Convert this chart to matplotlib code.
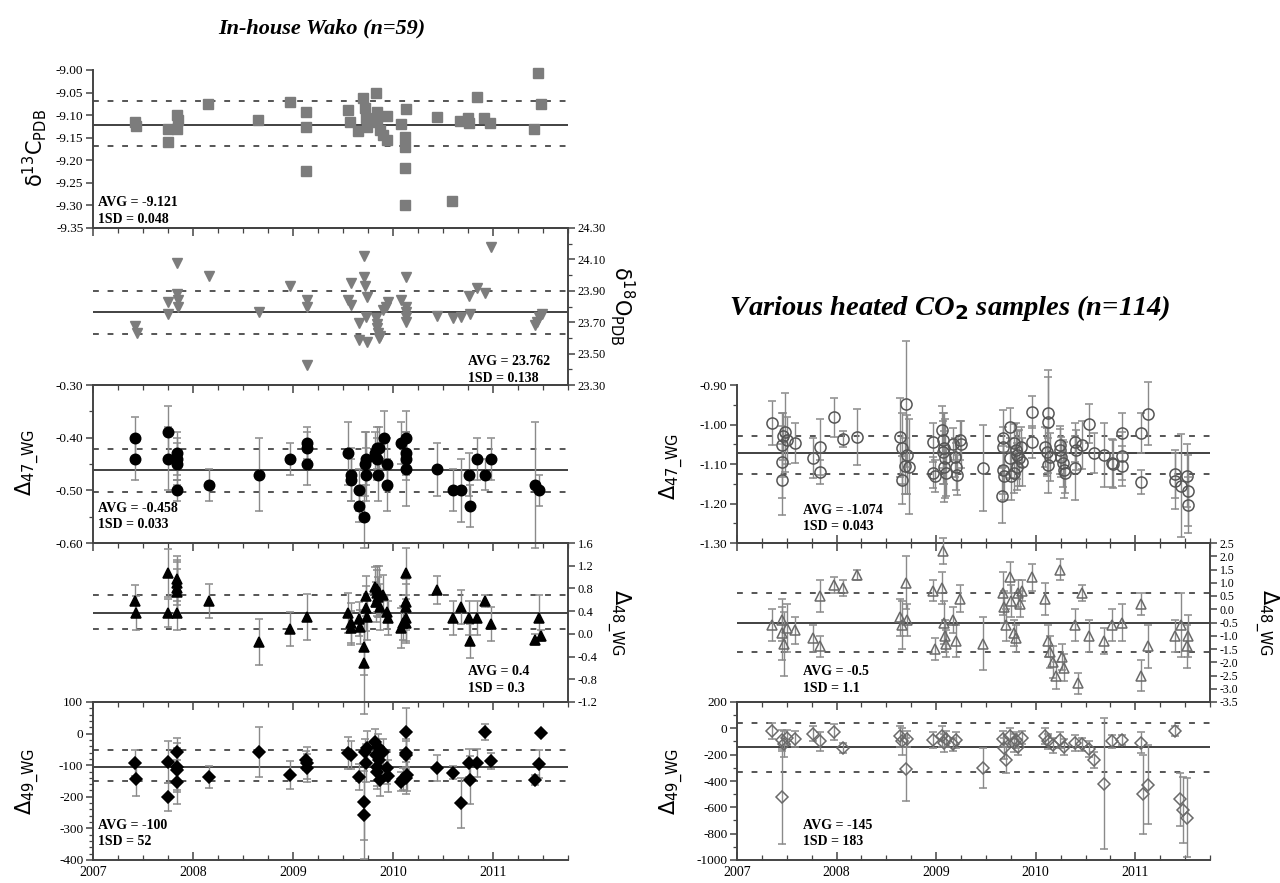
import matplotlib.pyplot as plt
import numpy as np
from matplotlib.ticker import MultipleLocator

plt.rcParams['font.family'] = ['Liberation Serif', 'DejaVu Serif']
plt.rcParams['mathtext.fontset'] = 'dejavusans'

# ---- data (decimal year, value[, 1 sigma]) ----
# In-house Wako
d13c = np.array([
    [2007.42, -9.115], [2007.43, -9.125], [2007.75, -9.13], [2007.75, -9.16],
    [2007.84, -9.10], [2007.84, -9.13], [2007.85, -9.11], [2008.15, -9.075],
    [2008.65, -9.11], [2008.97, -9.07], [2009.13, -9.093], [2009.13, -9.127],
    [2009.13, -9.224], [2009.55, -9.089], [2009.57, -9.115], [2009.65, -9.135],
    [2009.70, -9.063], [2009.72, -9.085], [2009.73, -9.107], [2009.74, -9.127],
    [2009.83, -9.05], [2009.84, -9.093], [2009.84, -9.115], [2009.87, -9.133],
    [2009.90, -9.145], [2009.94, -9.155], [2009.94, -9.102], [2010.08, -9.12],
    [2010.13, -9.087], [2010.12, -9.149], [2010.12, -9.171], [2010.12, -9.218],
    [2010.12, -9.30], [2010.44, -9.104], [2010.59, -9.291], [2010.67, -9.113],
    [2010.75, -9.107], [2010.76, -9.117], [2010.84, -9.06], [2010.91, -9.107],
    [2010.97, -9.118], [2011.41, -9.13], [2011.45, -9.007], [2011.48, -9.075],
])

d18o = np.array([
    [2007.42, 23.676], [2007.44, 23.63], [2007.75, 23.752], [2007.75, 23.83],
    [2007.84, 24.08], [2007.84, 23.88], [2007.85, 23.84], [2007.85, 23.80],
    [2008.16, 23.994], [2008.66, 23.765], [2008.97, 23.93], [2009.14, 23.84],
    [2009.14, 23.80], [2009.14, 23.43], [2009.55, 23.84], [2009.58, 23.81],
    [2009.58, 23.95], [2009.66, 23.695], [2009.66, 23.587], [2009.71, 24.12],
    [2009.71, 23.99], [2009.72, 23.93], [2009.74, 23.86], [2009.73, 23.735],
    [2009.74, 23.574], [2009.83, 23.727], [2009.84, 23.69], [2009.84, 23.66],
    [2009.85, 23.63], [2009.86, 23.60], [2009.87, 23.61], [2009.90, 23.78],
    [2009.93, 23.80], [2009.95, 23.83], [2010.08, 23.84], [2010.13, 23.99],
    [2010.13, 23.80], [2010.13, 23.765], [2010.13, 23.735], [2010.13, 23.70],
    [2010.44, 23.74], [2010.60, 23.727], [2010.68, 23.73], [2010.76, 23.87],
    [2010.77, 23.75], [2010.84, 23.92], [2010.92, 23.884], [2010.98, 24.18],
    [2011.42, 23.68], [2011.44, 23.70], [2011.46, 23.73], [2011.49, 23.75],
])

d47 = np.array([
    [2007.42, -0.40, 0.04], [2007.42, -0.44, 0.04], [2007.75, -0.39, 0.05],
    [2007.75, -0.44, 0.06], [2007.84, -0.43, 0.04], [2007.84, -0.44, 0.04],
    [2007.84, -0.45, 0.04], [2007.84, -0.50, 0.02], [2008.16, -0.49, 0.03],
    [2008.66, -0.47, 0.07], [2008.97, -0.44, 0.03], [2009.14, -0.41, 0.03],
    [2009.14, -0.42, 0.03], [2009.14, -0.45, 0.04], [2009.55, -0.43, 0.06],
    [2009.58, -0.47, 0.05], [2009.58, -0.48, 0.04], [2009.66, -0.50, 0.04],
    [2009.66, -0.53, 0.03], [2009.71, -0.55, 0.06], [2009.72, -0.45, 0.06],
    [2009.73, -0.44, 0.05], [2009.73, -0.47, 0.05], [2009.82, -0.43, 0.04],
    [2009.84, -0.42, 0.04], [2009.84, -0.44, 0.04], [2009.85, -0.47, 0.05],
    [2009.86, -0.42, 0.04], [2009.91, -0.40, 0.05], [2009.94, -0.45, 0.05],
    [2009.94, -0.49, 0.05], [2010.08, -0.41, 0.04], [2010.13, -0.40, 0.05],
    [2010.13, -0.43, 0.04], [2010.13, -0.44, 0.04], [2010.13, -0.46, 0.07],
    [2010.44, -0.46, 0.05], [2010.60, -0.50, 0.04], [2010.68, -0.50, 0.06],
    [2010.76, -0.47, 0.04], [2010.77, -0.53, 0.04], [2010.84, -0.44, 0.04],
    [2010.92, -0.47, 0.03], [2010.98, -0.44, 0.04], [2011.42, -0.49, 0.12],
    [2011.46, -0.50, 0.03],
])

d48 = np.array([
    [2007.42, 0.58, 0.28], [2007.43, 0.37, 0.30], [2007.75, 1.07, 0.42],
    [2007.75, 0.37, 0.25], [2007.84, 0.97, 0.40], [2007.84, 0.90, 0.40],
    [2007.84, 0.81, 0.45], [2007.84, 0.74, 0.40], [2007.84, 0.37, 0.30],
    [2008.16, 0.58, 0.30], [2008.66, -0.14, 0.40], [2008.97, 0.09, 0.30],
    [2009.14, 0.30, 0.40], [2009.55, 0.37, 0.35], [2009.58, 0.19, 0.35],
    [2009.58, 0.10, 0.30], [2009.66, 0.26, 0.30], [2009.67, 0.12, 0.30],
    [2009.71, -0.23, 0.50], [2009.71, -0.51, 0.90], [2009.73, 0.67, 0.35],
    [2009.73, 0.45, 0.40], [2009.74, 0.30, 0.40], [2009.82, 0.83, 0.35],
    [2009.84, 0.79, 0.40], [2009.84, 0.72, 0.40], [2009.85, 0.65, 0.35],
    [2009.83, 0.56, 0.35], [2009.87, 0.47, 0.40], [2009.86, 0.74, 0.45],
    [2009.90, 0.69, 0.35], [2009.94, 0.38, 0.30], [2009.95, 0.28, 0.30],
    [2010.08, 0.10, 0.35], [2010.10, 0.19, 0.30], [2010.13, 1.07, 0.45],
    [2010.13, 0.56, 0.40], [2010.13, 0.47, 0.40], [2010.13, 0.28, 0.40],
    [2010.13, 0.19, 0.35], [2010.44, 0.77, 0.25], [2010.60, 0.28, 0.30],
    [2010.68, 0.47, 0.30], [2010.76, 0.28, 0.30], [2010.77, -0.12, 0.30],
    [2010.84, 0.28, 0.30], [2010.92, 0.58, 0.10], [2010.98, 0.17, 0.30],
    [2011.42, -0.10, 0.10], [2011.46, 0.28, 0.40], [2011.48, -0.03, 0.10],
])

d49 = np.array([
    [2007.42, -93, 40], [2007.43, -144, 55], [2007.75, -90, 65],
    [2007.75, -200, 45], [2007.84, -58, 45], [2007.84, -105, 75],
    [2007.84, -115, 70], [2007.84, -153, 70], [2008.16, -137, 35],
    [2008.66, -58, 78], [2008.97, -131, 45], [2009.13, -84, 30],
    [2009.14, -93, 50], [2009.14, -109, 45], [2009.55, -61, 50],
    [2009.58, -68, 45], [2009.66, -137, 40], [2009.71, -216, 120],
    [2009.71, -258, 140], [2009.72, -58, 40], [2009.73, -93, 60],
    [2009.74, -46, 55], [2009.82, -27, 40], [2009.83, -68, 50],
    [2009.84, -105, 60], [2009.84, -121, 55], [2009.85, -42, 40],
    [2009.87, -147, 50], [2009.86, -84, 45], [2009.90, -58, 40],
    [2009.94, -109, 50], [2009.95, -134, 50], [2010.08, -153, 30],
    [2010.10, -144, 35], [2010.13, 5, 75], [2010.13, -61, 45],
    [2010.13, -68, 45], [2010.14, -131, 50], [2010.13, -140, 50],
    [2010.44, -109, 40], [2010.60, -124, 20], [2010.68, -220, 80],
    [2010.76, -93, 45], [2010.77, -147, 75], [2010.84, -93, 45],
    [2010.92, 5, 25], [2010.98, -87, 25], [2011.42, -147, 15],
    [2011.46, -96, 45], [2011.48, 2, 0],
])

# Various heated CO2 samples
h47 = np.array([
    [2007.35, -0.996, 0.055], [2007.45, -1.052, 0.08], [2007.45, -1.095, 0.09],
    [2007.45, -1.14, 0.09], [2007.46, -1.03, 0.06], [2007.48, -1.02, 0.10],
    [2007.50, -1.04, 0.06], [2007.58, -1.047, 0.05], [2007.76, -1.085, 0.05],
    [2007.83, -1.057, 0.07], [2007.83, -1.12, 0.03], [2007.97, -0.982, 0.05],
    [2008.06, -1.037, 0.02], [2008.21, -1.032, 0.07], [2008.64, -1.032, 0.10],
    [2008.66, -1.06, 0.09], [2008.66, -1.14, 0.06], [2008.70, -0.948, 0.16],
    [2008.71, -1.077, 0.10], [2008.69, -1.105, 0.07], [2008.73, -1.107, 0.12],
    [2008.97, -1.045, 0.05], [2008.97, -1.122, 0.04], [2008.99, -1.13, 0.04],
    [2009.06, -1.014, 0.06], [2009.07, -1.04, 0.07], [2009.08, -1.06, 0.09],
    [2009.07, -1.07, 0.08], [2009.09, -1.085, 0.10], [2009.08, -1.107, 0.09],
    [2009.10, -1.122, 0.06], [2009.17, -1.05, 0.04], [2009.19, -1.083, 0.05],
    [2009.20, -1.107, 0.06], [2009.21, -1.128, 0.05], [2009.24, -1.04, 0.05],
    [2009.25, -1.05, 0.06], [2009.47, -1.11, 0.11], [2009.67, -1.034, 0.07],
    [2009.67, -1.057, 0.05], [2009.67, -1.115, 0.06], [2009.68, -1.13, 0.06],
    [2009.66, -1.18, 0.07], [2009.74, -1.007, 0.05], [2009.74, -1.085, 0.05],
    [2009.75, -1.13, 0.06], [2009.78, -1.048, 0.05], [2009.80, -1.065, 0.07],
    [2009.81, -1.077, 0.06], [2009.83, -1.085, 0.07], [2009.85, -1.057, 0.05],
    [2009.81, -1.107, 0.06], [2009.78, -1.123, 0.05], [2009.86, -1.095, 0.06],
    [2009.96, -0.968, 0.04], [2009.96, -1.045, 0.04], [2010.12, -0.97, 0.09],
    [2010.12, -0.993, 0.13], [2010.09, -1.057, 0.05], [2010.11, -1.07, 0.06],
    [2010.14, -1.082, 0.06], [2010.12, -1.103, 0.07], [2010.24, -1.065, 0.06],
    [2010.25, -1.082, 0.05], [2010.27, -1.098, 0.06], [2010.28, -1.115, 0.07],
    [2010.29, -1.123, 0.05], [2010.24, -1.052, 0.04], [2010.39, -1.045, 0.05],
    [2010.40, -1.065, 0.05], [2010.39, -1.11, 0.08], [2010.46, -1.052, 0.06],
    [2010.53, -0.998, 0.05], [2010.59, -1.072, 0.05], [2010.69, -1.077, 0.08],
    [2010.77, -1.097, 0.06], [2010.78, -1.10, 0.06], [2010.87, -1.022, 0.05],
    [2010.87, -1.08, 0.06], [2010.87, -1.105, 0.05], [2011.06, -1.022, 0.05],
    [2011.06, -1.146, 0.03], [2011.13, -0.973, 0.08], [2011.40, -1.125, 0.06],
    [2011.40, -1.143, 0.07], [2011.46, -1.155, 0.13], [2011.52, -1.13, 0.08],
    [2011.53, -1.168, 0.09], [2011.53, -1.204, 0.07],
])

h48 = np.array([
    [2007.35, -0.6, 0.6], [2007.45, -0.4, 0.8], [2007.45, -0.9, 1.0],
    [2007.47, -1.3, 1.2], [2007.50, -0.7, 0.9], [2007.58, -0.8, 0.5],
    [2007.76, -1.1, 0.5], [2007.83, 0.5, 0.6], [2007.83, -1.4, 0.4],
    [2007.97, 0.9, 0.3], [2008.06, 0.8, 0.3], [2008.21, 1.3, 0.2],
    [2008.64, -0.3, 0.7], [2008.66, -0.6, 0.9], [2008.70, 1.0, 1.0],
    [2008.71, -0.4, 0.6], [2008.97, 0.7, 0.4], [2008.99, -1.5, 0.4],
    [2009.06, 0.8, 0.6], [2009.07, 2.2, 0.5], [2009.08, -0.5, 0.8],
    [2009.09, -1.0, 0.6], [2009.10, -1.3, 0.5], [2009.17, -0.4, 0.5],
    [2009.20, -1.2, 0.6], [2009.24, 0.4, 0.5], [2009.47, -1.3, 1.0],
    [2009.67, 0.6, 0.8], [2009.68, 0.1, 0.6], [2009.70, -0.6, 0.6],
    [2009.74, 1.2, 0.6], [2009.75, 0.3, 0.6], [2009.78, -0.9, 0.5],
    [2009.80, -1.1, 0.5], [2009.82, 0.6, 0.5], [2009.84, 0.2, 0.5],
    [2009.86, 0.7, 0.4], [2009.96, 1.2, 0.5], [2010.09, 0.4, 0.6],
    [2010.12, -1.2, 0.6], [2010.14, -1.6, 0.6], [2010.17, -2.0, 0.6],
    [2010.20, -2.5, 0.5], [2010.24, 1.5, 0.4], [2010.26, -1.8, 0.5],
    [2010.28, -2.2, 0.5], [2010.39, -0.6, 0.6], [2010.42, -2.8, 0.4],
    [2010.46, 0.6, 0.3], [2010.53, -1.0, 0.6], [2010.69, -1.2, 0.5],
    [2010.77, -0.6, 0.6], [2010.87, -0.5, 0.7], [2011.06, 0.2, 0.4],
    [2011.06, -2.5, 0.6], [2011.13, -1.4, 0.8], [2011.40, -1.0, 0.6],
    [2011.46, -0.6, 1.2], [2011.52, -1.4, 0.8], [2011.53, -1.0, 0.8],
])

h49 = np.array([
    [2007.35, -20, 60], [2007.45, -90, 80], [2007.45, -520, 360],
    [2007.47, -120, 100], [2007.50, -70, 60], [2007.58, -80, 60],
    [2007.76, -40, 60], [2007.83, -100, 70], [2007.97, -30, 60],
    [2008.06, -150, 40], [2008.64, -60, 80], [2008.66, -100, 100],
    [2008.70, -310, 240], [2008.71, -80, 60], [2008.97, -90, 60],
    [2009.06, -60, 80], [2009.08, -110, 70], [2009.10, -80, 60],
    [2009.17, -120, 50], [2009.20, -90, 60], [2009.47, -300, 150],
    [2009.67, -80, 60], [2009.68, -150, 80], [2009.70, -240, 100],
    [2009.74, -60, 60], [2009.78, -110, 70], [2009.80, -90, 60],
    [2009.82, -140, 60], [2009.86, -70, 50], [2010.09, -60, 60],
    [2010.12, -100, 60], [2010.17, -130, 60], [2010.24, -90, 60],
    [2010.28, -140, 60], [2010.39, -110, 60], [2010.46, -120, 50],
    [2010.53, -160, 60], [2010.59, -240, 60], [2010.69, -420, 500],
    [2010.77, -100, 50], [2010.87, -90, 40], [2011.06, -110, 80],
    [2011.08, -500, 300], [2011.13, -430, 300], [2011.40, -20, 40],
    [2011.45, -540, 200], [2011.48, -620, 250], [2011.52, -680, 300],
])

wako_stats = {'d13c': (-9.121, -9.069, -9.169), 'd18o': (23.762, 23.90, 23.624),
              'd47': (-0.461, -0.421, -0.503), 'd48': (0.37, 0.68, 0.085),
              'd49': (-105, -52, -150)}
heated_stats = {'d47': (-1.072, -1.029, -1.125), 'd48': (-0.5, 0.6, -1.6),
                'd49': (-145, 38, -328)}

years = [2007, 2008, 2009, 2010, 2011]

# ---- layout helpers ----
W, H = 1280, 883
fig = plt.figure(figsize=(12.8, 8.83), dpi=100)


def rect(x0, x1, y0, y1):
    return [x0 / W, 1 - y1 / H, (x1 - x0) / W, (y1 - y0) / H]


def panel(r, side, ylim, yticks, fmt, top=True, xbottom=False, xlabels=False,
          yminor=None, ysize=9.5):
    ax = fig.add_axes(r)
    ax.set_facecolor('none')
    ax.set_xlim(2007, 2011.75)
    ax.set_ylim(ylim)
    for s in ['left', 'right', 'top', 'bottom']:
        ax.spines[s].set_color('#444444')
        ax.spines[s].set_linewidth(1.4)
    ax.spines['left'].set_visible(side == 'left')
    ax.spines['right'].set_visible(side == 'right')
    ax.spines['top'].set_visible(top)
    ax.yaxis.set_ticks_position(side)
    ax.set_yticks(yticks)
    ax.set_yticklabels([fmt % v for v in yticks])
    if yminor:
        ax.yaxis.set_minor_locator(MultipleLocator(yminor))
    ax.tick_params(axis='y', which='major', direction='out', length=5, width=1.1,
                   color='#444444', labelsize=ysize, pad=2)
    ax.tick_params(axis='y', which='minor', direction='out', length=3, width=0.9,
                   color='#444444')
    ax.set_xticks(years)
    ax.set_xticklabels([str(y) for y in years])
    ax.xaxis.set_minor_locator(MultipleLocator(0.25))
    ax.tick_params(axis='x', which='both', direction='in', top=top, bottom=xbottom,
                   labelbottom=xlabels, labeltop=False, color='#444444',
                   labelsize=10, pad=4)
    ax.tick_params(axis='x', which='major', length=6, width=1.1)
    ax.tick_params(axis='x', which='minor', length=3.5, width=0.9)
    return ax


def stat_lines(ax, st):
    ax.axhline(st[0], color='#333333', lw=1.3, zorder=1)
    for v in st[1:]:
        ax.axhline(v, color='#555555', lw=1.4, ls=(0, (3, 4.5)), zorder=1)


def err_plot(ax, d, marker, ms, mfc, mec, ecolor='#8a8a8a'):
    eb = ax.errorbar(d[:, 0], d[:, 1], yerr=d[:, 2], fmt=marker, ms=ms, mfc=mfc,
                     mec=mec, mew=1.1, ecolor=ecolor, elinewidth=1.0, capsize=3,
                     capthick=1.0, zorder=3)
    for art in list(eb[1]) + list(eb[2]):
        art.set_clip_on(False)
    eb[0].set_clip_on(False)


def stat_text(ax, x, y, avg, sd, ha='left'):
    ax.text(x, y, 'AVG = ' + avg + '\n1SD = ' + sd, transform=ax.transAxes,
            ha=ha, va='top', fontsize=10, fontweight='bold', linespacing=1.35)


# ---- left column: In-house Wako ----
lx0, lx1 = 93, 568
ax1 = panel(rect(lx0, lx1, 70, 228), 'left', (-9.35, -9.00),
            [-9.00, -9.05, -9.10, -9.15, -9.20, -9.25, -9.30, -9.35], '%.2f', top=False)
ax1.spines['bottom'].set_visible(True)
ax1.tick_params(axis='x', which='both', top=False, bottom=False)
stat_lines(ax1, wako_stats['d13c'])
ax1.plot(d13c[:, 0], d13c[:, 1], 's', ms=7, color='#7c7c7c', zorder=3, clip_on=False)
stat_text(ax1, 0.01, 0.20, '-9.121', '0.048')

ax2 = panel(rect(lx0, lx1, 228, 385), 'right', (23.30, 24.30),
            [24.30, 24.10, 23.90, 23.70, 23.50, 23.30], '%.2f', yminor=0.1, ysize=9)
stat_lines(ax2, wako_stats['d18o'])
ax2.plot(d18o[:, 0], d18o[:, 1], 'v', ms=7, color='#7c7c7c', zorder=3, clip_on=False)
stat_text(ax2, 0.79, 0.19, '23.762', '0.138')

ax3 = panel(rect(lx0, lx1, 385, 543), 'left', (-0.60, -0.30),
            [-0.30, -0.40, -0.50, -0.60], '%.2f', yminor=0.05)
stat_lines(ax3, wako_stats['d47'])
err_plot(ax3, d47, 'o', 7.5, 'black', 'black')
stat_text(ax3, 0.01, 0.26, '-0.458', '0.033')

ax4 = panel(rect(lx0, lx1, 543, 702), 'right', (-1.2, 1.6),
            [1.6, 1.2, 0.8, 0.4, 0.0, -0.4, -0.8, -1.2], '%.1f', ysize=9)
stat_lines(ax4, wako_stats['d48'])
err_plot(ax4, d48, '^', 7, 'black', 'black')
stat_text(ax4, 0.79, 0.23, '0.4', '0.3')

ax5 = panel(rect(lx0, lx1, 702, 860), 'left', (-400, 100),
            [100, 0, -100, -200, -300, -400], '%d', xbottom=True, xlabels=True, yminor=20)
stat_lines(ax5, wako_stats['d49'])
err_plot(ax5, d49, 'D', 6, 'black', 'black')
stat_text(ax5, 0.01, 0.26, '-100', '52')

# ---- right column: various heated CO2 ----
rx0, rx1 = 737, 1210
bx1 = panel(rect(rx0, rx1, 385, 543), 'left', (-1.30, -0.90),
            [-0.90, -1.00, -1.10, -1.20, -1.30], '%.2f', top=False, xbottom=True, yminor=0.05)
stat_lines(bx1, heated_stats['d47'])
err_plot(bx1, h47, 'o', 8, 'none', '#555555')
stat_text(bx1, 0.14, 0.25, '-1.074', '0.043')

bx2 = panel(rect(rx0, rx1, 543, 702), 'right', (-3.5, 2.5),
            [2.5, 2.0, 1.5, 1.0, 0.5, 0.0, -0.5, -1.0, -1.5, -2.0, -2.5, -3.0, -3.5], '%.1f',
            ysize=8.5)
stat_lines(bx2, heated_stats['d48'])
err_plot(bx2, h48, '^', 7, 'none', '#6a6a6a')
stat_text(bx2, 0.14, 0.23, '-0.5', '1.1')

bx3 = panel(rect(rx0, rx1, 702, 860), 'left', (-1000, 200),
            [200, 0, -200, -400, -600, -800, -1000], '%d', xbottom=True, xlabels=True, yminor=100)
stat_lines(bx3, heated_stats['d49'])
err_plot(bx3, h49, 'D', 6, 'none', '#6a6a6a')
stat_text(bx3, 0.14, 0.26, '-145', '183')

# ---- axis titles and panel titles ----
lab = dict(fontsize=15, family='DejaVu Sans', ha='center', va='center')
fig.text(35 / W, 1 - 148 / H, 'δ$^{13}$C$_{\\mathrm{PDB}}$', rotation=90, **lab)
fig.text(622 / W, 1 - 306 / H, 'δ$^{18}$O$_{\\mathrm{PDB}}$', rotation=270, **lab)
fig.text(28 / W, 1 - 463 / H, r'$\Delta_{\mathrm{47\_WG}}$', rotation=90, **lab)
fig.text(618 / W, 1 - 622 / H, r'$\Delta_{\mathrm{48\_WG}}$', rotation=270, **lab)
fig.text(28 / W, 1 - 782 / H, r'$\Delta_{\mathrm{49\_WG}}$', rotation=90, **lab)
fig.text(672 / W, 1 - 467 / H, r'$\Delta_{\mathrm{47\_WG}}$', rotation=90, **lab)
fig.text(1266 / W, 1 - 622 / H, r'$\Delta_{\mathrm{48\_WG}}$', rotation=270, **lab)
fig.text(672 / W, 1 - 782 / H, r'$\Delta_{\mathrm{49\_WG}}$', rotation=90, **lab)

fig.text(322 / W, 1 - 28 / H, 'In-house Wako (n=59)', ha='center', va='center',
         fontsize=16, fontweight='bold', fontstyle='italic')
fig.text(950 / W, 1 - 308 / H, r'Various heated CO$_{\mathbf{2}}$ samples (n=114)',
         ha='center', va='center', fontsize=20.5, fontweight='bold', fontstyle='italic')

fig.savefig('out.png', dpi=100)
